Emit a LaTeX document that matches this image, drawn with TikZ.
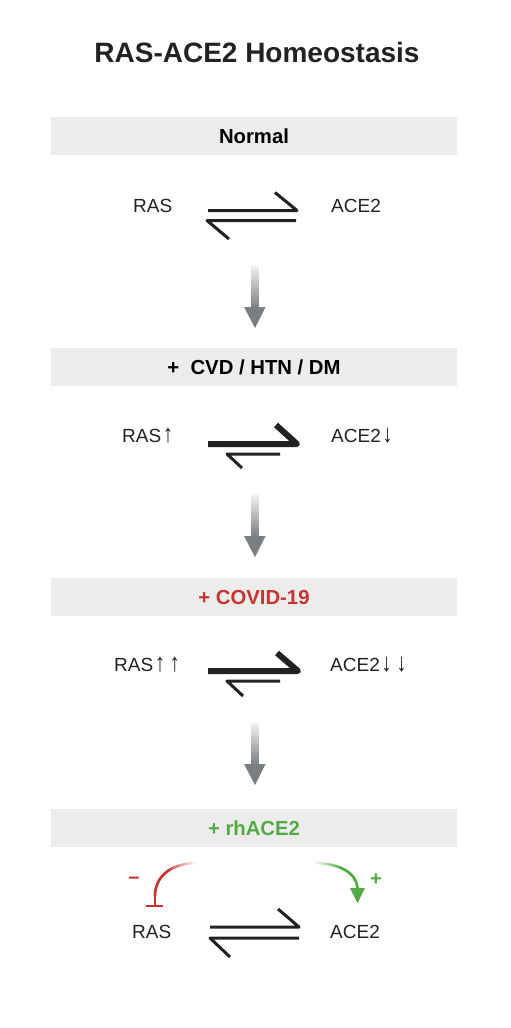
\documentclass[tikz,border=0pt]{standalone}
\usepackage{fontspec}
\usepackage{graphicx}
\setmainfont{Liberation Sans}
\newcommand{\upa}{\kern1.5pt\scalebox{1.1}[1.35]{↑}}
\newcommand{\dna}{\kern1.5pt\raisebox{-0.5pt}{\scalebox{1.1}[1.35]{↓}}}
\usetikzlibrary{arrows.meta}
\definecolor{bandc}{RGB}{236,236,236}
\definecolor{ink}{RGB}{34,34,34}
\definecolor{arrgray}{RGB}{122,126,130}
\definecolor{redc}{RGB}{198,52,48}
\definecolor{greenc}{RGB}{84,170,66}
\begin{document}
\begin{tikzpicture}[x=1pt,y=-1pt,
  lbl/.style={font=\fontsize{19}{22}\selectfont, text=ink, inner sep=0pt, anchor=base west},
  bandbox/.style={fill=bandc, draw=none, minimum width=406pt, minimum height=38pt, inner sep=0pt,
     text height=14pt, text depth=0pt, font=\fontsize{20.3}{22}\selectfont\bfseries},
  eqthin/.style={line width=3pt, draw=ink, line join=round},
  eqthick/.style={line width=6pt, draw=ink, line join=round},
  grayhead/.style={fill=arrgray, draw=none}]
\useasboundingbox (0,0) rectangle (511,1028);
\fill[white] (0,0) rectangle (511,1028);

% title
\node[font=\fontsize{28}{30}\selectfont\bfseries, text=ink, inner sep=0pt, anchor=base] (title) at (257,62) {RAS-ACE2 Homeostasis};

% bands
\node[bandbox, text=black] (b1) at (254,136) {Normal};
\node[bandbox, text=black] (b2) at (254,367) {+\ \ CVD / HTN / DM};
\node[bandbox, text=redc] (b3) at (254,597) {+ COVID-19};
\node[bandbox, text=greenc] (b4) at (254,828) {+ rhACE2};

% row 1
\node[lbl] (ras1) at (133,212) {RAS};
\node[lbl] (ace1) at (331,212) {ACE2};
\draw[eqthin] (208,210.5) -- (297,210.5) -- (275,192.5);
\draw[eqthin] (296,220.5) -- (207,220.5) -- (229,239);

% row 2
\node[lbl] (ras2) at (122,442) {RAS\upa};
\node[lbl] (ace2) at (331,442) {ACE2\dna};
\draw[eqthick] (208,444) -- (297,444) -- (276,425);
\draw[eqthin] (280,454) -- (227,454) -- (242,468);

% row 3
\node[lbl] (ras3) at (114,671) {RAS\upa\hspace{3pt}\upa};
\node[lbl] (ace3) at (330,671) {ACE2\dna\hspace{3pt}\dna};
\draw[eqthick] (208,671) -- (298,671) -- (277,653);
\draw[eqthin] (280,681) -- (227,681) -- (243,696);

% row 4
\node[lbl] (ras4) at (132,938) {RAS};
\node[lbl] (ace4) at (330,938) {ACE2};
\draw[eqthin] (210,927) -- (299,927) -- (278,909);
\draw[eqthin] (299,938) -- (210,938) -- (230,957);

% gray transition arrows
\foreach \t in {265,494,722}{
  \shade[top color=arrgray!8, bottom color=arrgray] (251,\t) rectangle (258.5,\t+43);
  \fill[grayhead] (244,\t+42) -- (265.5,\t+42) -- (255,\t+63) -- cycle;
}

% red inhibition curve
\coordinate (rs) at (198,863);
\coordinate (rm) at (155,896);
\coordinate (rb) at (155,906);
\path (rs) .. controls (170,863) and (155,877) .. (rm)
  \foreach \i in {0,...,24}{ coordinate[pos=\i/24] (rp\i) };
\foreach \i in {0,...,23}{
  \pgfmathtruncatemacro\j{\i+1}
  \pgfmathtruncatemacro\pc{min(100,100*\i/11)}
  \draw[line width=2.6pt, draw=redc!\pc!white, line cap=round] (rp\i) -- (rp\j);
}
\draw[line width=2.6pt, draw=redc] (rm) -- (rb);
\draw[line width=2.6pt, draw=redc] (145.5,906) -- (163,906);
\node[font=\fontsize{20}{22}\selectfont\bfseries, text=redc, inner sep=0pt] (minus) at (134,880) {–};

% green activation curve
\coordinate (gs) at (313,863);
\coordinate (ge) at (357.5,890);
\path (gs) .. controls (338,863) and (357.5,872) .. (ge)
  \foreach \i in {0,...,24}{ coordinate[pos=\i/24] (gp\i) };
\foreach \i in {0,...,23}{
  \pgfmathtruncatemacro\j{\i+1}
  \pgfmathtruncatemacro\pc{min(100,100*\i/10)}
  \draw[line width=2.6pt, draw=greenc!\pc!white, line cap=round] (gp\i) -- (gp\j);
}
\fill[greenc] (350,888) -- (365,888) -- (357.5,903) -- cycle;
\node[font=\fontsize{20}{22}\selectfont\bfseries, text=greenc, inner sep=0pt] (plus) at (376,880) {+};
\end{tikzpicture}
\end{document}
